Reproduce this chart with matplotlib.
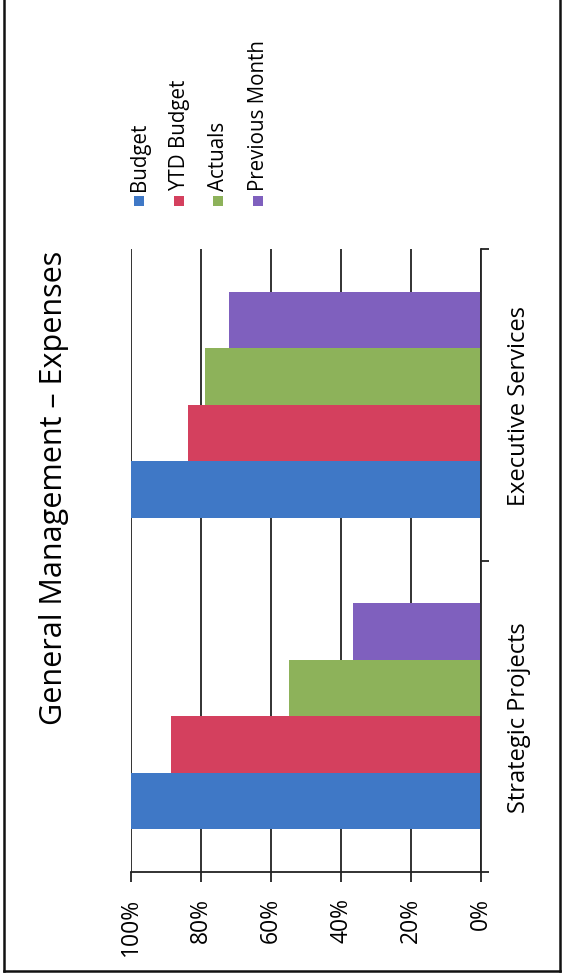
import numpy as np
import matplotlib
matplotlib.use("Agg")
import matplotlib.pyplot as plt
from matplotlib.lines import Line2D
from matplotlib.patches import Rectangle
from matplotlib.ticker import FixedLocator

plt.rcParams["font.family"] = ["Open Sans", "DejaVu Sans"]

# ---- data -------------------------------------------------------------
title = "General Management \u2013 Expenses"
categories = ["Strategic Projects", "Executive Services"]
series = ["Budget", "YTD Budget", "Actuals", "Previous Month"]
budget = [100.0, 100.0]
ytd_budget = [88.6, 83.7]
actuals = [55.0, 79.0]
previous_month = [36.5, 72.0]
values = [budget, ytd_budget, actuals, previous_month]
colours = ["#3f78c6", "#d4405e", "#8db25a", "#7f60be"]
value_ticks = [0, 20, 40, 60, 80, 100]
value_labels = [f"{v}%" for v in value_ticks]

# ---- figure (page is rotated: value axis runs right -> left) ----------
W, H = 564, 978
fig = plt.figure(figsize=(W / 100, H / 100), dpi=100)
fig.patch.set_facecolor("white")

def px(x, y):
    """pixel (from top-left) -> figure fraction"""
    return x / W, 1 - y / H

ax = fig.add_axes([131 / W, 1 - 873 / H, (481 - 131) / W, (873 - 250) / H])

n = len(series)
h = 0.181
y = np.arange(len(categories))
for i, (name, vals, c) in enumerate(zip(series, values, colours)):
    ax.barh(y + (i - (n - 1) / 2) * h, vals, height=h, color=c,
            label=name, zorder=2)

ax.set_xlim(100, 0)
ax.set_ylim(-0.5, len(categories) - 0.5)
ax.set_axisbelow(True)

# value axis along the bottom
ax.set_xticks(value_ticks)
ax.set_xticklabels(value_labels, rotation=90, fontsize=16.5)
ax.tick_params(axis="x", direction="out", length=7, width=1.3,
               color="#222", pad=11)
ax.grid(True, axis="x", color="#222", lw=1.3)

# category axis along the right
ax.yaxis.tick_right()
ax.set_yticks(y)
ax.set_yticklabels(categories, rotation=90, va="center", fontsize=17)
ax.yaxis.set_minor_locator(FixedLocator(np.arange(-0.5, len(categories), 1.0)))
ax.tick_params(axis="y", which="major", length=0, pad=19)
ax.tick_params(axis="y", which="minor", direction="out", length=6,
               width=1.3, color="#222", right=True, left=False)

for s in ("top", "left"):
    ax.spines[s].set_visible(False)
for s in ("right", "bottom"):
    ax.spines[s].set_color("#222")
    ax.spines[s].set_linewidth(1.3)

# title (rotated)
tx, ty = px(54, 488)
fig.text(tx, ty, title, rotation=90, ha="center", va="center", fontsize=22)

# legend (rotated, drawn by hand)
leg_x = [139, 179, 218, 258]
for xx, name, c in zip(leg_x, series, colours):
    x0, y0 = px(xx - 5, 207)
    fig.patches.append(Rectangle((x0, y0), 10 / W, 10 / H, transform=fig.transFigure,
                                 facecolor=c, edgecolor="none"))
    lx, ly = px(xx + 1, 191)
    fig.text(lx, ly, name, rotation=90, ha="center", va="bottom", fontsize=14.8)

# page border (left, right, bottom)
for xs, ys in (([4, 4], [-5, 972]), ([560, 560], [-5, 972]), ([4, 560], [972, 972])):
    fx = [v / W for v in xs]
    fy = [1 - v / H for v in ys]
    fig.lines.append(Line2D(fx, fy, transform=fig.transFigure, color="#111", lw=1.8))

fig.savefig("out.png", dpi=100)
